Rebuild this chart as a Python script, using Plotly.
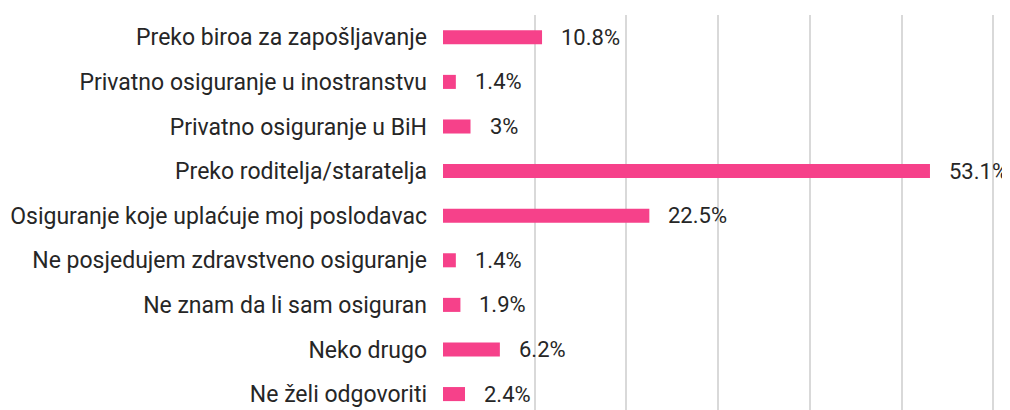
import plotly.graph_objects as go

categories = [
    "Preko biroa za zapošljavanje",
    "Privatno osiguranje u inostranstvu",
    "Privatno osiguranje u BiH",
    "Preko roditelja/staratelja",
    "Osiguranje koje uplaćuje moj poslodavac",
    "Ne posjedujem zdravstveno osiguranje",
    "Ne znam da li sam osiguran",
    "Neko drugo",
    "Ne želi odgovoriti",
]
values = [10.8, 1.4, 3, 53.1, 22.5, 1.4, 1.9, 6.2, 2.4]
value_labels = [f"{v:g}%" for v in values]
x_ticks = [0, 10, 20, 30, 40, 50, 60]

FONT = "Roboto, sans-serif"
TEXT_COLOR = "#262626"
BAR_COLOR = "#F6418A"

ypos = list(range(len(categories)))

fig = go.Figure()
fig.add_trace(go.Bar(
    x=values,
    y=ypos,
    orientation="h",
    marker=dict(color=BAR_COLOR, line=dict(width=0)),
    hoverinfo="skip",
))

for v, y, t in zip(values, ypos, value_labels):
    fig.add_annotation(
        x=v, y=y, text=t, showarrow=False,
        xanchor="left", yanchor="middle", xshift=17,
        font=dict(family=FONT, size=22, color=TEXT_COLOR),
    )

# the page body has an 8px margin, so the figure is sized to the visible area
fig.update_layout(
    width=1002,
    height=402,
    margin=dict(l=435, r=14, t=7, b=0, pad=0),
    paper_bgcolor="white",
    plot_bgcolor="white",
    bargap=0.685,
    showlegend=False,
    font=dict(family=FONT, size=22, color=TEXT_COLOR),
)
fig.update_xaxes(
    range=[0, 60.3],
    tickvals=x_ticks,
    showticklabels=False,
    showgrid=True,
    gridcolor="#D9D9D9",
    gridwidth=2,
    zeroline=False,
    showline=False,
    layer="below traces",
)
fig.update_yaxes(
    tickvals=ypos,
    ticktext=categories,
    range=[8.357, -0.5],
    showgrid=False,
    zeroline=False,
    showline=False,
    ticks="",
    ticklabelstandoff=15,
    tickfont=dict(family=FONT, size=23, color=TEXT_COLOR),
)

fig.write_html("out.html")
